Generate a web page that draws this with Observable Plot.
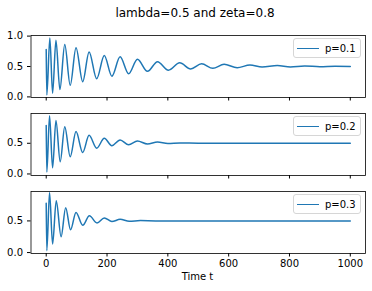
<!DOCTYPE html>
<html>
<head>
<meta charset="utf-8">
<script src="https://cdn.jsdelivr.net/npm/d3@7"></script>
<script src="https://cdn.jsdelivr.net/npm/@observablehq/plot@0.6"></script>
<style>
  body { margin: 0; background: white; }
  #wrap { position: relative; width: 372px; height: 291px; font-family: "DejaVu Sans", sans-serif; overflow: hidden; }
  .panel { position: absolute; left: 0; }
  #title { position: absolute; top: 6px; left: 195px; transform: translateX(-50%); font-size: 12px; line-height: 14px; white-space: nowrap; color: #000; }
  #xlab { position: absolute; top: 271px; left: 197.5px; transform: translateX(-50%); font-size: 10px; line-height: 12px; white-space: nowrap; color: #000; }
  .legend { position: absolute; left: 293px; width: 68px; height: 20px; border: 1px solid #d6d6d6; border-radius: 3px; background: rgba(255,255,255,0.8); box-sizing: border-box; }
  .legend .sw { position: absolute; left: 3px; top: 9px; width: 22px; height: 0; border-top: 1.5px solid #1f77b4; }
  .legend .lab { position: absolute; left: 31px; top: 3.5px; font-size: 10px; line-height: 12px; color: #000; }
</style>
</head>
<body>
<div id="wrap">
  <div id="title">lambda=0.5 and zeta=0.8</div>
  <div id="xlab">Time t</div>
</div>
<script>
// Series (time t, value)
const t1 = [0, 2, 12, 21, 32, 45, 61, 79, 98, 120, 141, 166, 191, 216, 243, 271, 300, 333, 366, 402, 439, 475, 511, 548, 585, 628, 670, 710, 760, 803, 850, 900, 950, 1000];
const v1 = [0.78, 0.03, 0.97, 0.06, 0.93, 0.12, 0.86, 0.19, 0.81, 0.25, 0.74, 0.30, 0.68, 0.34, 0.66, 0.38, 0.62, 0.42, 0.58, 0.44, 0.56, 0.46, 0.545, 0.47, 0.535, 0.48, 0.525, 0.49, 0.515, 0.493, 0.508, 0.497, 0.503, 0.50];

const t2 = [0, 2, 11, 21, 32, 46, 61, 79, 98, 120, 141, 166, 191, 216, 243, 271, 300, 333, 366, 400, 440, 500, 1000];
const v2 = [0.79, 0.03, 0.95, 0.10, 0.87, 0.20, 0.77, 0.28, 0.69, 0.35, 0.63, 0.42, 0.58, 0.46, 0.554, 0.477, 0.537, 0.489, 0.52, 0.495, 0.505, 0.50, 0.50];

const t3 = [0, 2, 11, 21, 33, 49, 64, 80, 98, 120, 142, 167, 191, 216, 243, 273, 310, 360, 1000];
const v3 = [0.78, 0.03, 0.95, 0.135, 0.82, 0.25, 0.71, 0.36, 0.635, 0.43, 0.58, 0.468, 0.548, 0.49, 0.525, 0.495, 0.505, 0.50, 0.50];

const labels = ["p=0.1", "p=0.2", "p=0.3"];
const xTicks = [0, 200, 400, 600, 800, 1000];
const yTicks1 = [0, 0.5, 1.0];
const yTicks23 = [0, 0.5];

const wrap = document.getElementById("wrap");

function panel(ts, vs, label, yDomain, yTicks, top, last) {
  const rows = ts.map((t, i) => ({t, v: vs[i]}));
  const mb = last ? 38 : 8;
  const chart = Plot.plot({
    width: 372,
    height: 10 + 62 + mb,
    marginLeft: 30.5,
    marginRight: 7,
    marginTop: 10,
    marginBottom: mb,
    style: {fontFamily: "DejaVu Sans", fontSize: "10px", color: "black", background: "transparent", overflow: "visible"},
    x: {domain: [-50, 1050]},
    y: {domain: yDomain},
    marks: [
      Plot.line(rows, {x: "t", y: "v", stroke: "#1f77b4", strokeWidth: 1.5, curve: "monotone-x"}),
      Plot.frame({stroke: "black", strokeWidth: 0.8}),
      Plot.axisX({ticks: xTicks, tickSize: 3.5, tickPadding: 3, tickFormat: last ? (d => String(d)) : (() => ""), label: null, fill: "black"}),
      Plot.axisY({ticks: yTicks, tickSize: 3.5, tickPadding: 4.5, tickFormat: d3.format(".1f"), label: null, fill: "black"})
    ]
  });
  const div = document.createElement("div");
  div.className = "panel";
  div.style.top = top + "px";
  div.appendChild(chart);
  wrap.appendChild(div);

  const lg = document.createElement("div");
  lg.className = "legend";
  lg.style.top = (top + 13) + "px";
  lg.innerHTML = '<div class="sw"></div><div class="lab">' + label + '</div>';
  wrap.appendChild(lg);
}

panel(t1, v1, labels[0], [-0.01, 1.01], yTicks1, 25, false);
panel(t2, v2, labels[1], [-0.025, 0.985], yTicks23, 103, false);
panel(t3, v3, labels[2], [-0.015, 0.965], yTicks23, 181, true);
</script>
</body>
</html>
